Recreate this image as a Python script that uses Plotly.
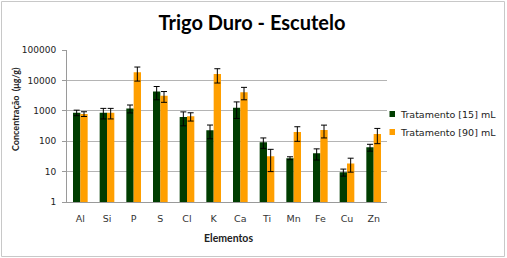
import plotly.graph_objects as go

elementos = ["Al", "Si", "P", "S", "Cl", "K", "Ca", "Ti", "Mn", "Fe", "Cu", "Zn"]
trat15 = [870, 870, 1200, 4300, 620, 230, 1260, 93, 27.7, 40, 9.6, 63]
trat15_err = [180, 330, 350, 2000, 300, 110, 700, 35, 3, 16, 2.5, 16]
trat90 = [790, 870, 18500, 3100, 660, 16200, 4100, 32, 199, 233, 18.6, 173]
trat90_err = [140, 330, 9000, 1200, 200, 8000, 1800, 22, 100, 105, 9, 90]
y_ticks = [1, 10, 100, 1000, 10000, 100000]
series_names = ["Tratamento [15] mL", "Tratamento [90] mL"]
series_colors = ["#003d00", "#ff9f00"]

W, H = 507, 258
ml, mr, mt, mb = 67, 120, 50, 56
pw = W - ml - mr
ph = H - mt - mb


def px_x(x):
    return (x - ml) / pw


def px_y(y):
    return (H - mb - y) / ph


fig = go.Figure()
for vals, errs, name, col in [(trat15, trat15_err, series_names[0], series_colors[0]),
                              (trat90, trat90_err, series_names[1], series_colors[1])]:
    fig.add_trace(go.Bar(
        x=elementos, y=vals, name=name,
        marker=dict(color=col, line=dict(width=0)),
        error_y=dict(type="data", array=errs, color="black", thickness=1, width=3),
    ))

# outer frame
fig.add_shape(type="rect", xref="paper", yref="paper",
              x0=px_x(1.5), x1=px_x(W - 2.5), y0=px_y(H - 1.5), y1=px_y(1.5),
              line=dict(color="#c8c8c8", width=1), layer="below")

# custom legend
for i, (name, col) in enumerate(zip(series_names, series_colors)):
    yy = 114 + 18 * i
    fig.add_shape(type="rect", xref="paper", yref="paper",
                  x0=px_x(389.5), x1=px_x(395), y0=px_y(yy + 3), y1=px_y(yy - 3),
                  fillcolor=col, line=dict(width=0))
    fig.add_annotation(xref="paper", yref="paper", x=px_x(398), y=px_y(yy),
                       xanchor="left", yanchor="middle", showarrow=False,
                       text=name, font=dict(family="DejaVu Sans", size=9.5, color="#222"))

# axis titles
fig.add_annotation(xref="paper", yref="paper", x=px_x(228), y=px_y(238),
                   xanchor="center", yanchor="middle", showarrow=False,
                   text="<b>Elementos</b>", font=dict(family="Lato", size=10.5, color="#222"))
fig.add_annotation(xref="paper", yref="paper", x=px_x(15), y=px_y(109),
                   xanchor="center", yanchor="middle", showarrow=False, textangle=-90,
                   text="<b>Concentração  (μg/g)</b>", font=dict(family="Lato", size=9, color="#222"))

fig.update_layout(
    width=W, height=H,
    margin=dict(l=ml, r=mr, t=mt, b=mb),
    paper_bgcolor="white", plot_bgcolor="white",
    barmode="group", bargap=0.45, bargroupgap=0,
    showlegend=False,
    title=dict(text="<b>Trigo Duro - Escutelo</b>", x=252 / W, xanchor="center",
               y=1 - 23 / H, yanchor="middle",
               font=dict(family="Lato", size=20, color="black")),
    font=dict(family="DejaVu Sans", size=9, color="#222"),
    xaxis=dict(showline=True, linecolor="#9a9a9a", linewidth=1, ticks="",
               ticklabelstandoff=8,
               tickfont=dict(family="DejaVu Sans", size=9.5, color="#333")),
    yaxis=dict(type="log", range=[0, 5], tickvals=y_ticks,
               ticktext=[str(v) for v in y_ticks],
               showline=True, linecolor="#9a9a9a", linewidth=1,
               ticks="outside", ticklen=4, tickcolor="#9a9a9a",
               ticklabelstandoff=4,
               showgrid=True, gridcolor="#b4b4b4", gridwidth=1,
               tickfont=dict(family="DejaVu Sans", size=9, color="#222")),
)

fig.write_html("out.html")
